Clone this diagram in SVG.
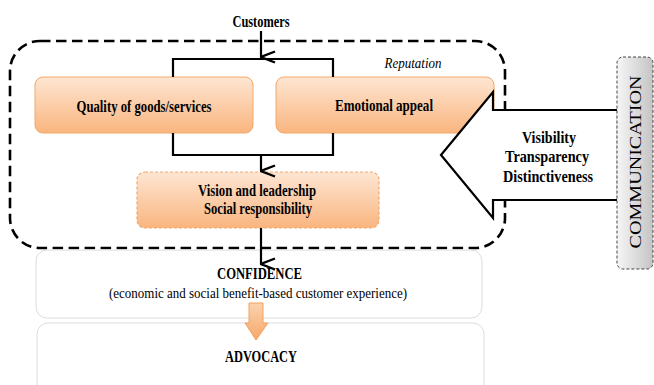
<svg xmlns="http://www.w3.org/2000/svg" width="654" height="385" viewBox="0 0 654 385" font-family="'Liberation Serif', 'DejaVu Serif', serif">
<defs>
<linearGradient id="orange" x1="0" y1="0" x2="0" y2="1">
<stop offset="0" stop-color="#fee6d3"/>
<stop offset="1" stop-color="#f9b57f"/>
</linearGradient>
<linearGradient id="orangeArrow" x1="0" y1="0" x2="0" y2="1">
<stop offset="0" stop-color="#fbd2b0"/>
<stop offset="1" stop-color="#f6a868"/>
</linearGradient>
<linearGradient id="gray" x1="0" y1="0" x2="1" y2="0">
<stop offset="0" stop-color="#f6f6f6"/>
<stop offset="1" stop-color="#c4c4c4"/>
</linearGradient>
<marker id="vhead" viewBox="0 0 14 16" refX="7" refY="15" markerWidth="14" markerHeight="16" markerUnits="userSpaceOnUse" orient="auto-start-reverse">
<path d="M1.5,1 L7,15 L12.5,1" fill="none" stroke="#000" stroke-width="2.4"/>
</marker>
</defs>
<style>
text{font-family:"Liberation Serif","DejaVu Serif",serif;fill:#000}
.b{font-weight:bold;font-size:16.5px}
.c{text-anchor:middle}
.box{fill:url(#orange);stroke:#f2a86a;stroke-width:1}
.dbox{fill:url(#orange);stroke:#f2a86a;stroke-width:1.2;stroke-dasharray:3 2}
.wbox{fill:#fff;stroke:#dcdcdc;stroke-width:1}
.conn{fill:none;stroke:#000;stroke-width:2.2}
</style>
<rect width="654" height="385" fill="#fff"/>

<g id="reputation">
<rect x="10" y="41" width="495" height="207" rx="30" fill="none" stroke="#000" stroke-width="2.6" stroke-dasharray="10.5 5.5"/>
<text x="413" y="68" class="c" font-size="15" font-style="italic" textLength="57" lengthAdjust="spacingAndGlyphs">Reputation</text>
</g>

<g id="customers">
<text x="261" y="27" class="b c" textLength="57" lengthAdjust="spacingAndGlyphs">Customers</text>
</g>

<g id="quality">
<rect x="35" y="77" width="218" height="56" rx="8" class="box"/>
<text x="144" y="112" class="b c" textLength="135" lengthAdjust="spacingAndGlyphs">Quality of goods/services</text>
</g>

<g id="emotional">
<rect x="276" y="77" width="218" height="56" rx="8" class="box"/>
<text x="384" y="111" class="b c" textLength="98" lengthAdjust="spacingAndGlyphs">Emotional appeal</text>
</g>

<g id="vision">
<rect x="137" y="172" width="242" height="56" rx="8" class="dbox"/>
<text x="257" y="196" class="b c" textLength="118" lengthAdjust="spacingAndGlyphs">Vision and leadership</text>
<text x="258" y="214" class="b c" textLength="108" lengthAdjust="spacingAndGlyphs">Social responsibility</text>
</g>

<g id="confidence">
<rect x="36" y="250" width="446" height="68" rx="11" class="wbox"/>
<text x="259.5" y="279" class="b c" font-size="15.5" textLength="85" lengthAdjust="spacingAndGlyphs">CONFIDENCE</text>
<text x="258" y="298" class="c" font-size="15" textLength="298" lengthAdjust="spacingAndGlyphs">(economic and social benefit-based customer experience)</text>
</g>

<g id="advocacy">
<rect x="37" y="323" width="447" height="80" rx="11" class="wbox"/>
<text x="261" y="362" class="b c" font-size="15.5" textLength="72" lengthAdjust="spacingAndGlyphs">ADVOCACY</text>
</g>

<g id="connectors">
<path class="conn" d="M261,31 V57" marker-end="url(#vhead)"/>
<path class="conn" d="M173,77 V59 H333 V77"/>
<path class="conn" d="M173,133 V155 H333 V133"/>
<path class="conn" d="M261,155 V171" marker-end="url(#vhead)"/>
<path class="conn" d="M261,228 V264" marker-end="url(#vhead)"/>
<path d="M249,303 H263 V323 H268 L256,340 L245,323 H249 Z" fill="url(#orangeArrow)" stroke="#f2a060" stroke-width="1"/>
</g>

<g id="communication-arrow">
<path d="M441,155 L493,92 V110 H618 V200 H493 V218 Z" fill="#fff" stroke="#000" stroke-width="2.2" stroke-linejoin="miter"/>
<text x="549" y="143" class="b c" textLength="54" lengthAdjust="spacingAndGlyphs">Visibility</text>
<text x="547" y="162" class="b c" textLength="84" lengthAdjust="spacingAndGlyphs">Transparency</text>
<text x="548" y="182" class="b c" textLength="90" lengthAdjust="spacingAndGlyphs">Distinctiveness</text>
</g>

<g id="communication">
<rect x="617" y="57" width="36" height="212" rx="6" fill="url(#gray)" stroke="#444" stroke-width="1" stroke-dasharray="3 2"/>
<text transform="translate(641,162) rotate(-90)" class="c" font-size="16" textLength="173" lengthAdjust="spacingAndGlyphs">COMMUNICATION</text>
</g>
</svg>
